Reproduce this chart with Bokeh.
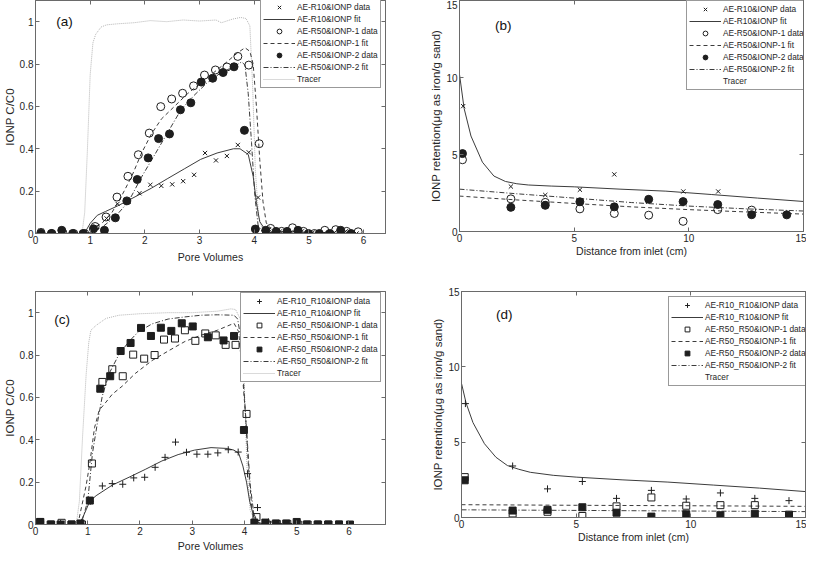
from bokeh.plotting import figure
from bokeh.models import (Range1d, LinearAxis, FixedTicker, Legend, LegendItem,
                          Label, ColumnDataSource, CustomJSTickFormatter, CustomLabelingPolicy)
from bokeh.layouts import column, row
from bokeh.embed import file_html
from bokeh.resources import INLINE

# ---------------- Panel (a) data ----------------
pv_a_r10 = [0.1,0.3,0.5,0.7,0.9,1.1,1.3,1.5,1.7,1.9,2.1,2.3,2.5,2.7,2.9,3.1,3.3,3.5,3.7,3.9,4.07,4.27,4.47,4.67,4.87,5.07,5.27,5.47,5.67,5.87]
c_a_r10 = [0.013,0.0,0.005,0.0,0.005,0.03,0.071,0.14,0.15,0.19,0.23,0.225,0.232,0.247,0.277,0.38,0.345,0.366,0.418,0.383,0.17,0.02,0.01,0.005,0.01,0.005,0.0,0.005,0.01,0.0]
pv_a_r50_1 = [0.1,0.3,0.5,0.7,0.9,1.09,1.29,1.49,1.69,1.88,2.08,2.29,2.49,2.69,2.89,3.09,3.29,3.5,3.7,3.9,4.09,4.3,4.5,4.7,4.9,5.1,5.29,5.49,5.69,5.9]
c_a_r50_1 = [0.005,0.0,0.003,0.0,0.0,0.033,0.078,0.172,0.27,0.372,0.474,0.599,0.635,0.662,0.697,0.748,0.772,0.786,0.836,0.795,0.424,0.024,0.01,0.027,0.01,0.0,0.015,0.018,0.01,0.008]
pv_a_r50_2 = [0.1,0.29,0.48,0.68,0.87,1.06,1.26,1.46,1.67,1.86,2.06,2.25,2.45,2.65,2.84,3.03,3.24,3.43,3.63,3.82,4.02,4.21,4.4,4.6,4.8,4.99,5.19,5.38,5.58,5.77]
c_a_r50_2 = [0.0,0.0,0.015,0.0,0.0,0.022,0.015,0.074,0.154,0.255,0.357,0.448,0.47,0.584,0.617,0.715,0.733,0.76,0.787,0.487,0.021,0.015,0.01,0.01,0.015,0.0,0.0,0.0,0.015,0.0]

tr_a_x = [0.0,0.80,0.86,0.90,0.95,1.00,1.05,1.10,1.20,1.30,1.50,1.80,2.10,2.40,2.70,3.00,3.30,3.40,3.60,3.75,3.85,3.92,3.97,4.02,4.08,4.15,4.30,6.00]
tr_a_y = [0.0,0.0,0.02,0.10,0.40,0.75,0.90,0.94,0.975,0.985,0.99,0.995,1.005,1.0,1.008,1.003,1.008,0.995,1.012,1.02,1.015,0.98,0.70,0.30,0.08,0.02,0.0,0.0]
r10fit_a_x = [0.0,0.86,0.92,1.0,1.13,1.28,1.5,1.82,2.12,2.42,2.72,3.02,3.32,3.62,3.74,3.89,3.98,4.04,4.10,4.22,4.40,6.0]
r10fit_a_y = [0.0,0.0,0.012,0.048,0.086,0.104,0.13,0.173,0.214,0.26,0.305,0.35,0.38,0.40,0.40,0.373,0.27,0.146,0.056,0.01,0.0,0.0]
r50fit1_a_x = [0.0,0.9,1.0,1.22,1.4,1.58,1.76,1.94,2.12,2.3,2.54,2.78,3.02,3.26,3.5,3.68,3.83,3.92,3.98,4.04,4.10,4.16,4.22,4.34,6.0]
r50fit1_a_y = [0.0,0.0,0.01,0.05,0.10,0.18,0.27,0.38,0.47,0.54,0.60,0.66,0.71,0.76,0.81,0.85,0.877,0.86,0.80,0.60,0.35,0.15,0.05,0.01,0.0]
r50fit2_a_x = [0.0,0.95,1.05,1.22,1.46,1.70,1.94,2.18,2.42,2.66,2.90,3.14,3.38,3.62,3.77,3.83,3.89,3.95,4.01,4.07,4.16,6.0]
r50fit2_a_y = [0.0,0.0,0.01,0.03,0.08,0.15,0.267,0.372,0.478,0.584,0.652,0.712,0.757,0.787,0.81,0.795,0.66,0.43,0.18,0.04,0.003,0.0]

# ---------------- Panel (b) data ----------------
dist_b_r10 = [0.16,2.24,3.74,5.25,6.75,9.76,11.28]
ret_b_r10 = [8.14,2.92,2.37,2.71,3.71,2.6,2.6]
dist_b_r50_1 = [0.13,2.24,3.74,5.25,6.75,8.25,9.75,11.26,12.74]
ret_b_r50_1 = [4.66,2.12,1.89,1.47,1.17,1.06,0.66,1.42,1.39]
dist_b_r50_2 = [0.13,2.24,3.74,5.25,6.75,8.25,9.75,11.26,12.74,14.27]
ret_b_r50_2 = [5.06,1.57,1.7,1.93,1.6,2.09,1.94,1.75,1.09,1.08]
r10fit_b_x = [0.0,0.2,0.5,1.0,1.5,2.0,2.5,3.0,4.0,5.0,7.0,9.0,11.0,13.0,15.0]
r10fit_b_y = [10.2,8.0,6.2,4.5,3.6,3.25,3.1,3.02,2.95,2.9,2.75,2.62,2.4,2.17,1.95]
r50fit1_b_x = [0.0,2.5,5.0,7.5,10.0,12.5,15.0]
r50fit1_b_y = [2.3,2.05,1.82,1.6,1.42,1.27,1.13]
r50fit2_b_x = [0.0,2.5,5.0,7.5,10.0,12.5,15.0]
r50fit2_b_y = [2.75,2.45,2.17,1.88,1.65,1.47,1.33]

# ---------------- Panel (c) data ----------------
pv_c_r10 = [0.1,0.29,0.48,0.68,0.87,1.05,1.28,1.47,1.67,1.88,2.09,2.29,2.48,2.68,2.89,3.09,3.3,3.49,3.69,3.88,4.06,4.25,4.46,4.65,4.85,5.05,5.25,5.45,5.65,5.85]
c_c_r10 = [0.012,0.0,0.005,0.0,0.005,0.11,0.182,0.193,0.19,0.22,0.223,0.27,0.317,0.389,0.341,0.332,0.332,0.338,0.353,0.342,0.24,0.08,0.012,0.005,0.005,0.0,0.0,0.0,0.0,0.0]
pv_c_r50_1 = [0.09,0.29,0.5,0.69,0.89,1.08,1.28,1.47,1.67,1.87,2.08,2.28,2.46,2.67,2.86,3.06,3.25,3.45,3.64,3.83,4.04,4.23,4.43,4.62,4.82,5.02,5.21,5.41,5.61,5.81]
c_c_r50_1 = [0.012,0.0,0.008,0.0,0.0,0.288,0.673,0.733,0.7,0.802,0.783,0.8,0.873,0.878,0.917,0.867,0.902,0.893,0.848,0.848,0.522,0.035,0.0,0.003,0.003,0.0,0.0,0.0,0.0,0.0]
pv_c_r50_2 = [0.09,0.3,0.48,0.69,0.86,1.04,1.24,1.43,1.63,1.82,2.02,2.21,2.4,2.6,2.8,3.01,3.3,3.6,3.8,3.99,4.19,4.4,4.6,4.8,5.0,5.19,5.4,5.6,5.81,6.02]
c_c_r50_2 = [0.012,0.0,0.0,0.0,0.005,0.113,0.641,0.7,0.819,0.857,0.928,0.89,0.929,0.914,0.95,0.935,0.884,0.869,0.89,0.446,0.009,0.009,0.005,0.005,0.012,0.0,0.0,0.0,0.0,0.0]

tr_c_x = [0.0,0.78,0.84,0.90,0.97,1.02,1.06,1.16,1.35,1.60,2.0,2.54,3.0,3.48,3.74,3.83,3.92,3.99,4.05,4.11,4.20,4.35,6.0]
tr_c_y = [0.0,0.0,0.11,0.41,0.71,0.86,0.917,0.94,0.973,0.988,0.995,1.0,1.0,1.007,1.018,1.015,0.97,0.71,0.26,0.065,0.02,0.0,0.0]
r10fit_c_x = [0.0,0.81,0.9,1.04,1.16,1.47,1.79,2.10,2.42,2.73,3.04,3.36,3.67,3.80,3.89,3.97,4.04,4.10,4.18,4.30,6.0]
r10fit_c_y = [0.0,0.0,0.03,0.11,0.136,0.186,0.223,0.26,0.30,0.33,0.351,0.363,0.359,0.351,0.336,0.276,0.20,0.11,0.035,0.0,0.0]
r50fit1_c_x = [0.0,0.81,0.97,1.04,1.13,1.22,1.35,1.47,1.66,1.91,2.23,2.54,2.86,3.17,3.48,3.80,3.89,3.96,4.02,4.08,4.14,4.24,4.40,6.0]
r50fit1_c_y = [0.0,0.0,0.185,0.29,0.457,0.54,0.578,0.615,0.653,0.713,0.774,0.819,0.864,0.894,0.917,0.95,0.91,0.71,0.52,0.26,0.08,0.012,0.0,0.0]
r50fit2_c_x = [0.0,0.87,1.0,1.09,1.19,1.28,1.41,1.60,1.79,1.97,2.23,2.54,2.86,3.17,3.48,3.80,3.87,3.94,3.99,4.05,4.11,4.18,4.27,4.40,6.0]
r50fit2_c_y = [0.0,0.0,0.11,0.336,0.487,0.608,0.713,0.804,0.864,0.91,0.947,0.97,0.98,0.988,0.99,0.988,0.97,0.864,0.638,0.41,0.186,0.05,0.005,0.0,0.0]

# ---------------- Panel (d) data ----------------
dist_d_r10 = [0.17,2.23,3.75,5.27,6.76,8.28,9.8,11.29,12.79,14.28]
ret_d_r10 = [7.56,3.42,1.9,2.39,1.27,1.8,1.23,1.63,1.27,1.12]
dist_d_r50_1 = [0.14,2.23,3.75,5.27,6.76,8.28,9.8,11.29,12.79]
ret_d_r50_1 = [2.68,0.27,0.38,0.1,0.74,1.33,0.78,0.82,0.82]
dist_d_r50_2 = [0.14,2.23,3.75,5.27,6.76,8.28,9.8,11.29,12.79,14.28]
ret_d_r50_2 = [2.47,0.46,0.51,0.68,0.32,0.06,0.21,0.15,0.25,0.19]
r10fit_d_x = [0.0,0.2,0.5,1.0,1.5,2.0,2.5,3.0,4.0,5.0,7.0,9.0,11.0,13.0,15.0]
r10fit_d_y = [8.9,7.6,6.3,4.9,4.0,3.45,3.2,3.0,2.8,2.68,2.5,2.35,2.15,1.95,1.72]
r50fit1_d_x = [0.0,5.0,10.0,15.0]
r50fit1_d_y = [0.85,0.81,0.78,0.74]
r50fit2_d_x = [0.0,5.0,10.0,15.0]
r50fit2_d_y = [0.51,0.47,0.43,0.39]

# ---------------- labels ----------------
xlab_pv = "Pore Volumes"
xlab_dist = "Distance from inlet (cm)"
ylab_c = "IONP C/C0"
ylab_ret = "IONP retention(\u03bcg as iron/g sand)"
leg_ab = ["AE-R10&IONP data", "AE-R10&IONP fit", "AE-R50&IONP-1 data", "AE-R50&IONP-1 fit",
          "AE-R50&IONP-2 data", "AE-R50&IONP-2 fit", "Tracer"]
leg_cd = ["AE-R10_R10&IONP data", "AE-R10_R10&IONP fit", "AE-R50_R50&IONP-1 data",
          "AE-R50_R50&IONP-1 fit", "AE-R50_R50&IONP-2 data", "AE-R50_R50&IONP-2 fit", "Tracer"]
ticks_pv = [0, 1, 2, 3, 4, 5, 6]
ticks_c = [0, 0.2, 0.4, 0.6, 0.8, 1.0]
ticks_15 = [0, 5, 10, 15]

FONT = "Liberation Sans"
AX = "#6a6a6a"
TXT = "#262626"
MK = "#1e1e1e"
LN = "#3c3c3c"
TR = "#b4b4b4"
LEG_H = 88

fmt_code = "return String(Math.round(tick*100)/100);"


def make_panel(fw, fh, bl, br, bt, bb, xr, yr, xt, yt, xlab, ylab, xlab_std):
    p = figure(frame_width=fw, frame_height=fh, x_range=Range1d(*xr), y_range=Range1d(*yr),
               output_backend="svg", toolbar_location=None,
               min_border_left=bl, min_border_right=br, min_border_top=bt, min_border_bottom=bb)
    p.grid.visible = False
    p.outline_line_color = AX
    p.outline_line_width = 1
    p.background_fill_color = "white"
    p.border_fill_color = "white"
    for ax, ticks, lab, std in ((p.xaxis[0], xt, xlab, xlab_std), (p.yaxis[0], yt, ylab, 1)):
        ax.ticker = FixedTicker(ticks=ticks)
        ax.formatter = CustomJSTickFormatter(code=fmt_code)
        ax.axis_label = lab
        ax.axis_label_standoff = std
        ax.axis_label_text_font = FONT
        ax.axis_label_text_font_style = "normal"
        ax.axis_label_text_color = TXT
        ax.major_label_text_font = FONT
        ax.major_label_text_font_size = "10px"
        ax.major_label_text_color = TXT
        ax.major_label_standoff = 2
        ax.major_tick_in = 4
        ax.major_tick_out = 0
        ax.minor_tick_line_color = None
        ax.axis_line_color = AX
        ax.major_tick_line_color = AX
    p.xaxis[0].axis_label_text_font_size = "10.5px"
    p.yaxis[0].axis_label_text_font_size = "11.5px"
    for loc, ticks in (("above", xt), ("right", yt)):
        ax = LinearAxis(ticker=FixedTicker(ticks=ticks), major_label_text_font_size="0px",
                        major_label_policy=CustomLabelingPolicy(code="return new Set()"),
                        major_label_standoff=0, major_tick_in=4, major_tick_out=0,
                        minor_tick_line_color=None, axis_line_color=AX, major_tick_line_color=AX)
        p.add_layout(ax, loc)
    return p


def add_legend(p, items, left, frame_h, top_gap):
    leg = Legend(items=items, location=(left, frame_h - LEG_H - top_gap),
                 label_text_font=FONT, label_text_font_size="8.3px",
                 label_text_color=TXT, label_height=12, glyph_height=12, glyph_width=32,
                 label_standoff=2, spacing=0, padding=2, margin=0,
                 border_line_color="#333333", border_line_width=1,
                 background_fill_color="white", background_fill_alpha=1.0)
    p.add_layout(leg)


def panel_label(p, x, y, txt):
    p.add_layout(Label(x=x, y=y, text=txt, text_font=FONT, text_font_size="13.5px",
                       text_color="#111111", text_baseline="middle"))


# ---------- (a) ----------
pa = make_panel(350, 233, 30, 36, 0, 48, (0, 6.4), (0, 1.1), ticks_pv, ticks_c, xlab_pv, ylab_c, 4)
t_a = pa.line(tr_a_x, tr_a_y, line_color=TR, line_width=1, line_dash="1 1")
f1_a = pa.line(r10fit_a_x, r10fit_a_y, line_color=LN, line_width=1)
f2_a = pa.line(r50fit1_a_x, r50fit1_a_y, line_color=LN, line_width=1, line_dash="4 3")
f3_a = pa.line(r50fit2_a_x, r50fit2_a_y, line_color=LN, line_width=1, line_dash="5 2 1 2")
d1_a = pa.scatter(pv_a_r10, c_a_r10, marker="x", size=6, line_color=MK, line_width=1)
d2_a = pa.scatter(pv_a_r50_1, c_a_r50_1, marker="circle", size=8, line_color=MK, fill_color=None, line_width=1)
d3_a = pa.scatter(pv_a_r50_2, c_a_r50_2, marker="circle", size=8, line_color=MK, fill_color=MK)
add_legend(pa, [LegendItem(label=leg_ab[0], renderers=[d1_a]), LegendItem(label=leg_ab[1], renderers=[f1_a]),
                LegendItem(label=leg_ab[2], renderers=[d2_a]), LegendItem(label=leg_ab[3], renderers=[f2_a]),
                LegendItem(label=leg_ab[4], renderers=[d3_a]), LegendItem(label=leg_ab[5], renderers=[f3_a]),
                LegendItem(label=leg_ab[6], renderers=[t_a])], 225, 233, 0)
panel_label(pa, 0.38, 1.0, "(a)")

# ---------- (b) ----------
pb = make_panel(344, 231, 38, 3, 0, 50, (0, 15), (0, 15), ticks_15, ticks_15, xlab_dist, ylab_ret, 0)
empty_b = ColumnDataSource(data=dict(x=[], y=[]))
t_b = pb.line("x", "y", source=empty_b, line_color=TR, line_width=1, line_dash="1 1")
f1_b = pb.line(r10fit_b_x, r10fit_b_y, line_color=LN, line_width=1)
f2_b = pb.line(r50fit1_b_x, r50fit1_b_y, line_color=LN, line_width=1, line_dash="4 3")
f3_b = pb.line(r50fit2_b_x, r50fit2_b_y, line_color=LN, line_width=1, line_dash="5 2 1 2")
d1_b = pb.scatter(dist_b_r10, ret_b_r10, marker="x", size=6, line_color=MK, line_width=1)
d2_b = pb.scatter(dist_b_r50_1, ret_b_r50_1, marker="circle", size=8, line_color=MK, fill_color=None, line_width=1)
d3_b = pb.scatter(dist_b_r50_2, ret_b_r50_2, marker="circle", size=8, line_color=MK, fill_color=MK)
add_legend(pb, [LegendItem(label=leg_ab[0], renderers=[d1_b]), LegendItem(label=leg_ab[1], renderers=[f1_b]),
                LegendItem(label=leg_ab[2], renderers=[d2_b]), LegendItem(label=leg_ab[3], renderers=[f2_b]),
                LegendItem(label=leg_ab[4], renderers=[d3_b]), LegendItem(label=leg_ab[5], renderers=[f3_b]),
                LegendItem(label=leg_ab[6], renderers=[t_b])], 227, 231, 2)
panel_label(pb, 1.55, 13.4, "(b)")

# ---------- (c) ----------
pc = make_panel(350, 233, 30, 36, 4, 38, (0, 6.7), (0, 1.1), ticks_pv, ticks_c, xlab_pv, ylab_c, 2)
t_c = pc.line(tr_c_x, tr_c_y, line_color=TR, line_width=1, line_dash="1 1")
f1_c = pc.line(r10fit_c_x, r10fit_c_y, line_color=LN, line_width=1)
f2_c = pc.line(r50fit1_c_x, r50fit1_c_y, line_color=LN, line_width=1, line_dash="4 3")
f3_c = pc.line(r50fit2_c_x, r50fit2_c_y, line_color=LN, line_width=1, line_dash="5 2 1 2")
d1_c = pc.scatter(pv_c_r10, c_c_r10, marker="cross", size=7, line_color=MK, line_width=1)
d2_c = pc.scatter(pv_c_r50_1, c_c_r50_1, marker="square", size=7, line_color=MK, fill_color=None, line_width=1)
d3_c = pc.scatter(pv_c_r50_2, c_c_r50_2, marker="square", size=7, line_color=MK, fill_color=MK)
add_legend(pc, [LegendItem(label=leg_cd[0], renderers=[d1_c]), LegendItem(label=leg_cd[1], renderers=[f1_c]),
                LegendItem(label=leg_cd[2], renderers=[d2_c]), LegendItem(label=leg_cd[3], renderers=[f2_c]),
                LegendItem(label=leg_cd[4], renderers=[d3_c]), LegendItem(label=leg_cd[5], renderers=[f3_c]),
                LegendItem(label=leg_cd[6], renderers=[t_c])], 205, 233, 3)
panel_label(pc, 0.36, 0.97, "(c)")

# ---------- (d) ----------
pd_ = make_panel(344, 226, 40, 1, 10, 39, (0, 15), (0, 15), ticks_15, ticks_15, xlab_dist, ylab_ret, 0)
empty_d = ColumnDataSource(data=dict(x=[], y=[]))
t_d = pd_.line("x", "y", source=empty_d, line_color=TR, line_width=1, line_dash="1 1")
f1_d = pd_.line(r10fit_d_x, r10fit_d_y, line_color=LN, line_width=1)
f2_d = pd_.line(r50fit1_d_x, r50fit1_d_y, line_color=LN, line_width=1, line_dash="4 3")
f3_d = pd_.line(r50fit2_d_x, r50fit2_d_y, line_color=LN, line_width=1, line_dash="5 2 1 2")
d1_d = pd_.scatter(dist_d_r10, ret_d_r10, marker="cross", size=7, line_color=MK, line_width=1)
d2_d = pd_.scatter(dist_d_r50_1, ret_d_r50_1, marker="square", size=7, line_color=MK, fill_color=None, line_width=1)
d3_d = pd_.scatter(dist_d_r50_2, ret_d_r50_2, marker="square", size=7, line_color=MK, fill_color=MK)
add_legend(pd_, [LegendItem(label=leg_cd[0], renderers=[d1_d]), LegendItem(label=leg_cd[1], renderers=[f1_d]),
                 LegendItem(label=leg_cd[2], renderers=[d2_d]), LegendItem(label=leg_cd[3], renderers=[f2_d]),
                 LegendItem(label=leg_cd[4], renderers=[d3_d]), LegendItem(label=leg_cd[5], renderers=[f3_d]),
                 LegendItem(label=leg_cd[6], renderers=[t_d])], 207, 226, 7)
panel_label(pd_, 1.5, 13.5, "(d)")

layout = column(row(pa, pb), row(pc, pd_))
open("out.html", "w").write(file_html(layout, INLINE))
